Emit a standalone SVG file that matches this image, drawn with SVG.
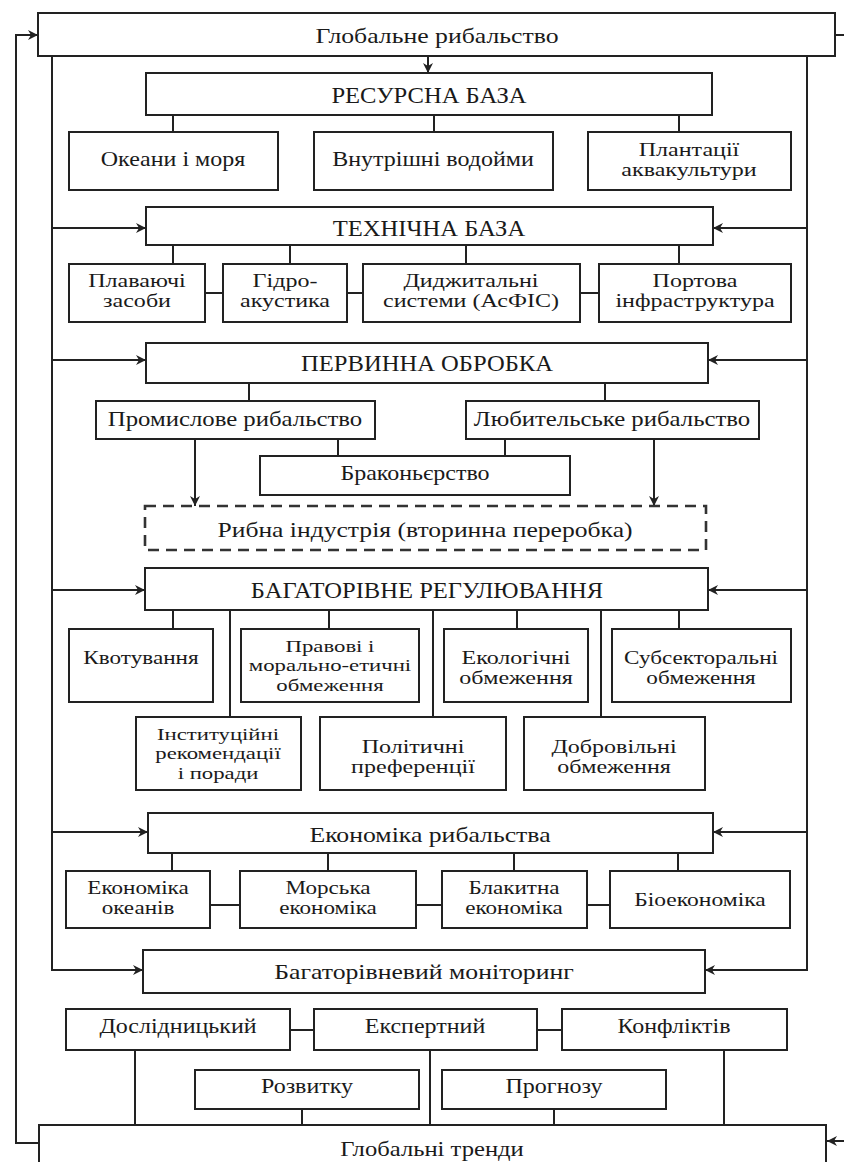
<svg xmlns="http://www.w3.org/2000/svg" width="844" height="1162" viewBox="0 0 844 1162">
<style>
.box{fill:#fff;stroke:#222;stroke-width:2}
.dash{fill:#fff;stroke:#333;stroke-width:2.6;stroke-dasharray:11 7}
.ln{fill:none;stroke:#222;stroke-width:2}
.t{font-family:"Liberation Serif","Times New Roman",serif;font-size:20px;fill:#1a1a1a;text-anchor:middle}
.s{font-size:19px}
.d{font-size:18.5px}
.e{font-size:17.5px}
.m{font-size:21px}
.h{font-size:22px}
.H{font-size:23px}
</style>
<defs>
<marker id="ah" viewBox="0 0 10 10" refX="10" refY="5" markerWidth="11" markerHeight="10" markerUnits="userSpaceOnUse" orient="auto">
<path d="M0,0 L10,5 L0,10 L3,5 z" fill="#222"/>
</marker>
</defs>
<rect width="844" height="1162" fill="#fff"/>

<g id="connectors">
<path class="ln" d="M39 1143 H16 V35 H38" marker-end="url(#ah)"/>
<path class="ln" d="M835 35 H844"/>
<path class="ln" d="M844 1141 H827" marker-end="url(#ah)"/>
<path class="ln" d="M428 56 V73" marker-end="url(#ah)"/>
<path class="ln" d="M52 56 V970 H143" marker-end="url(#ah)"/>
<path class="ln" d="M807 56 V970 H705" marker-end="url(#ah)"/>
<path class="ln" d="M52 228 H146" marker-end="url(#ah)"/>
<path class="ln" d="M807 228 H713" marker-end="url(#ah)"/>
<path class="ln" d="M52 360 H146" marker-end="url(#ah)"/>
<path class="ln" d="M807 360 H708" marker-end="url(#ah)"/>
<path class="ln" d="M52 590 H145" marker-end="url(#ah)"/>
<path class="ln" d="M807 590 H708" marker-end="url(#ah)"/>
<path class="ln" d="M52 832 H148" marker-end="url(#ah)"/>
<path class="ln" d="M807 832 H713" marker-end="url(#ah)"/>
<path class="ln" d="M173 115 V132 M434 115 V132 M679 115 V132"/>
<path class="ln" d="M173 245 V264 M290 245 V264 M466 245 V264 M679 245 V264"/>
<path class="ln" d="M205 293 H223 M347 293 H363 M580 293 H599"/>
<path class="ln" d="M249 383 V401 M605 383 V401 M338 439 V456 M505 439 V456"/>
<path class="ln" d="M195 439 V506" marker-end="url(#ah)"/>
<path class="ln" d="M654 439 V506" marker-end="url(#ah)"/>
<path class="ln" d="M173 610 V629 M329 610 V629 M517 610 V629 M679 610 V629"/>
<path class="ln" d="M230 610 V717 M433 610 V717 M601 610 V717"/>
<path class="ln" d="M172 853 V871 M328 853 V871 M514 853 V871 M678 853 V871"/>
<path class="ln" d="M210 905 H240 M416 905 H442 M587 905 H610"/>
<path class="ln" d="M290 1030 H314 M537 1030 H562"/>
<path class="ln" d="M135 1050 V1125 M430 1050 V1125 M724 1050 V1125 M302 1109 V1125 M554 1109 V1125"/>
</g>

<g id="n-global-fishing"><rect class="box" x="38" y="13" width="797" height="43"/>
<text class="t h" transform="translate(437 43) scale(1.17 1)">Глобальне рибальство</text></g>

<g id="n-resource"><rect class="box" x="146" y="73" width="566" height="42"/>
<text class="t H" transform="translate(429 103) scale(1.07 1)">РЕСУРСНА БАЗА</text></g>
<g id="n-oceans"><rect class="box" x="69" y="132" width="209" height="58"/>
<text class="t" transform="translate(173 166) scale(1.2 1)">Океани і моря</text></g>
<g id="n-inland"><rect class="box" x="314" y="132" width="239" height="58"/>
<text class="t" transform="translate(433 166) scale(1.2 1)">Внутрішні водойми</text></g>
<g id="n-aqua"><rect class="box" x="588" y="132" width="203" height="58"/>
<text class="t d" transform="translate(689 156) scale(1.3 1)"><tspan x="0">Плантації</tspan><tspan x="0" dy="20.5">аквакультури</tspan></text></g>

<g id="n-tech"><rect class="box" x="146" y="207" width="567" height="38"/>
<text class="t H" transform="translate(429 236) scale(1.07 1)">ТЕХНІЧНА БАЗА</text></g>
<g id="n-vessels"><rect class="box" x="69" y="264" width="136" height="58"/>
<text class="t d" transform="translate(137 287) scale(1.3 1)"><tspan x="0">Плаваючі</tspan><tspan x="0" dy="20.5">засоби</tspan></text></g>
<g id="n-hydro"><rect class="box" x="223" y="264" width="124" height="58"/>
<text class="t d" transform="translate(285 287) scale(1.3 1)"><tspan x="0">Гідро-</tspan><tspan x="0" dy="20.5">акустика</tspan></text></g>
<g id="n-digital"><rect class="box" x="363" y="264" width="217" height="58"/>
<text class="t d" transform="translate(471 287) scale(1.3 1)"><tspan x="0">Диджитальні</tspan><tspan x="0" dy="20.5">системи (АсФІС)</tspan></text></g>
<g id="n-port"><rect class="box" x="599" y="264" width="192" height="58"/>
<text class="t d" transform="translate(695 287) scale(1.3 1)"><tspan x="0">Портова</tspan><tspan x="0" dy="20.5">інфраструктура</tspan></text></g>

<g id="n-primary"><rect class="box" x="146" y="343" width="562" height="40"/>
<text class="t H" transform="translate(427 371) scale(1.07 1)">ПЕРВИННА ОБРОБКА</text></g>
<g id="n-industrial"><rect class="box" x="96" y="401" width="279" height="38"/>
<text class="t m" transform="translate(235 426) scale(1.18 1)">Промислове рибальство</text></g>
<g id="n-amateur"><rect class="box" x="466" y="401" width="293" height="38"/>
<text class="t m" transform="translate(612 426) scale(1.18 1)">Любительське рибальство</text></g>
<g id="n-poaching"><rect class="box" x="260" y="456" width="310" height="39"/>
<text class="t" transform="translate(415 480) scale(1.2 1)">Браконьєрство</text></g>
<g id="n-industry"><rect class="dash" x="145" y="506" width="561" height="44"/>
<text class="t m" transform="translate(425 537) scale(1.22 1)">Рибна індустрія (вторинна переробка)</text></g>

<g id="n-regulation"><rect class="box" x="145" y="568" width="563" height="42"/>
<text class="t H" transform="translate(427 598) scale(1.07 1)">БАГАТОРІВНЕ РЕГУЛЮВАННЯ</text></g>
<g id="n-quota"><rect class="box" x="69" y="629" width="144" height="73"/>
<text class="t s" transform="translate(141 664) scale(1.22 1)">Квотування</text></g>
<g id="n-legal"><rect class="box" x="241" y="629" width="178" height="73"/>
<text class="t e" transform="translate(330 652) scale(1.3 1)"><tspan x="0">Правові і</tspan><tspan x="0" dy="19.5">морально-етичні</tspan><tspan x="0" dy="19.5">обмеження</tspan></text></g>
<g id="n-eco"><rect class="box" x="444" y="629" width="144" height="73"/>
<text class="t d" transform="translate(516 664) scale(1.3 1)"><tspan x="0">Екологічні</tspan><tspan x="0" dy="20.5">обмеження</tspan></text></g>
<g id="n-subsector"><rect class="box" x="612" y="629" width="179" height="73"/>
<text class="t d" transform="translate(701 664) scale(1.25 1)"><tspan x="0">Субсекторальні</tspan><tspan x="0" dy="20.5">обмеження</tspan></text></g>
<g id="n-institutional"><rect class="box" x="136" y="717" width="165" height="73"/>
<text class="t e" transform="translate(218 740) scale(1.3 1)"><tspan x="0">Інституційні</tspan><tspan x="0" dy="19.5">рекомендації</tspan><tspan x="0" dy="19.5">і поради</tspan></text></g>
<g id="n-political"><rect class="box" x="320" y="717" width="186" height="73"/>
<text class="t d" transform="translate(413 753) scale(1.3 1)"><tspan x="0">Політичні</tspan><tspan x="0" dy="20.5">преференції</tspan></text></g>
<g id="n-voluntary"><rect class="box" x="524" y="717" width="181" height="73"/>
<text class="t d" transform="translate(614 753) scale(1.3 1)"><tspan x="0">Добровільні</tspan><tspan x="0" dy="20.5">обмеження</tspan></text></g>

<g id="n-economics"><rect class="box" x="148" y="813" width="565" height="40"/>
<text class="t h" transform="translate(430 842) scale(1.17 1)">Економіка рибальства</text></g>
<g id="n-ocean-econ"><rect class="box" x="66" y="871" width="144" height="57"/>
<text class="t d" transform="translate(138 894) scale(1.25 1)"><tspan x="0">Економіка</tspan><tspan x="0" dy="20.5">океанів</tspan></text></g>
<g id="n-marine-econ"><rect class="box" x="240" y="871" width="176" height="57"/>
<text class="t d" transform="translate(328 894) scale(1.25 1)"><tspan x="0">Морська</tspan><tspan x="0" dy="20.5">економіка</tspan></text></g>
<g id="n-blue-econ"><rect class="box" x="442" y="871" width="145" height="57"/>
<text class="t d" transform="translate(514 894) scale(1.25 1)"><tspan x="0">Блакитна</tspan><tspan x="0" dy="20.5">економіка</tspan></text></g>
<g id="n-bioecon"><rect class="box" x="610" y="871" width="180" height="57"/>
<text class="t s" transform="translate(700 906) scale(1.24 1)">Біоекономіка</text></g>

<g id="n-monitoring"><rect class="box" x="143" y="950" width="562" height="43"/>
<text class="t h" transform="translate(424 979) scale(1.17 1)">Багаторівневий моніторинг</text></g>
<g id="n-research"><rect class="box" x="66" y="1009" width="224" height="41"/>
<text class="t" transform="translate(178 1033) scale(1.2 1)">Дослідницький</text></g>
<g id="n-expert"><rect class="box" x="314" y="1009" width="223" height="41"/>
<text class="t" transform="translate(425 1033) scale(1.2 1)">Експертний</text></g>
<g id="n-conflicts"><rect class="box" x="562" y="1009" width="225" height="41"/>
<text class="t" transform="translate(674 1033) scale(1.2 1)">Конфліктів</text></g>
<g id="n-development"><rect class="box" x="195" y="1070" width="224" height="39"/>
<text class="t" transform="translate(307 1093) scale(1.2 1)">Розвитку</text></g>
<g id="n-forecast"><rect class="box" x="442" y="1070" width="224" height="39"/>
<text class="t" transform="translate(554 1093) scale(1.2 1)">Прогнозу</text></g>
<g id="n-global-trends"><rect class="box" x="39" y="1125" width="787" height="50"/>
<text class="t h" transform="translate(432 1156) scale(1.12 1)">Глобальні тренди</text></g>
</svg>
